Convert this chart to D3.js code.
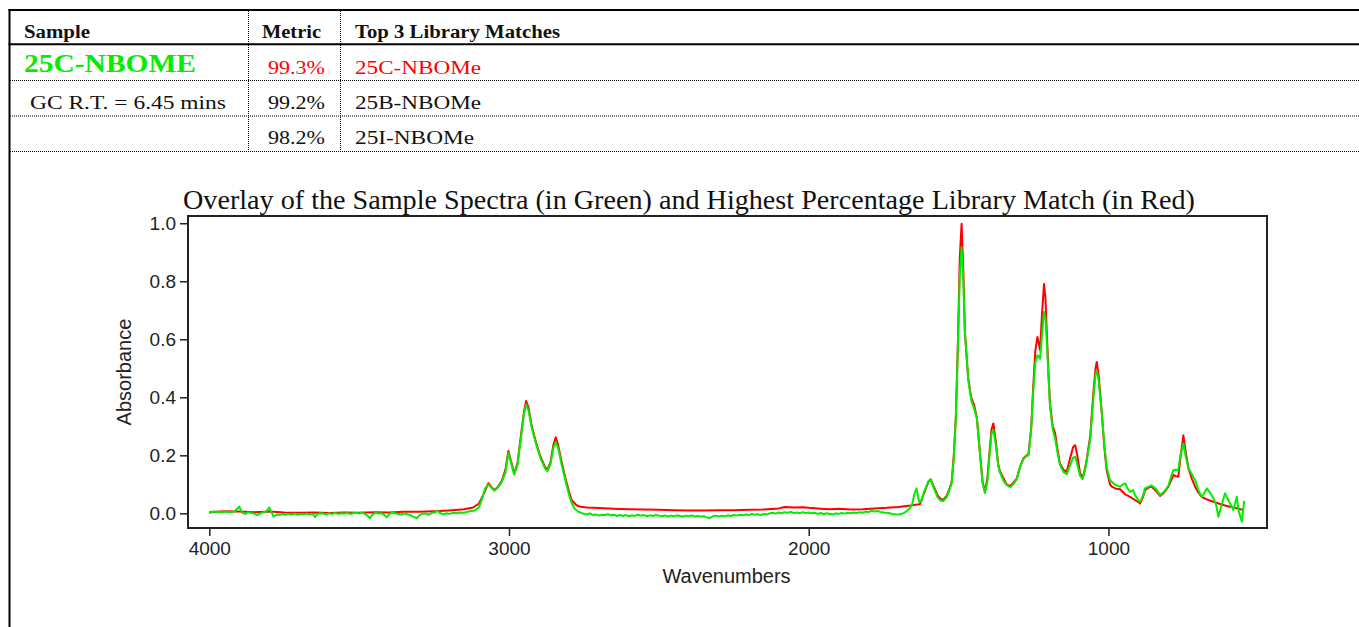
<!DOCTYPE html>
<html>
<head>
<meta charset="utf-8">
<script src="https://cdn.jsdelivr.net/npm/d3@7"></script>
<style>
  body { margin: 0; background: #fff; }
  svg { display: block; }
  .serif { font-family: "Liberation Serif", "DejaVu Serif", serif; }
  .sans { font-family: "Liberation Sans", Arial, sans-serif; }
</style>
</head>
<body>
<svg id="chart" width="1359" height="627"></svg>
<script>
// table content
const headers = ['Sample', 'Metric', 'Top 3 Library Matches'];
const sampleName = '25C-NBOME';
const retention = 'GC R.T. = 6.45 mins';
const metrics = ['99.3%', '99.2%', '98.2%'];
const matches = ['25C-NBOMe', '25B-NBOMe', '25I-NBOMe'];

const chartTitle = 'Overlay of the Sample Spectra (in Green) and Highest Percentage Library Match (in Red)';
const xTicks = [4000, 3000, 2000, 1000];
const yTicks = [0, 0.2, 0.4, 0.6, 0.8, 1.0];

// library match spectrum (red)
const redWn = [4000,3950,3900,3850,3800,3750,3700,3650,3600,3550,3500,3450,3400,3350,3300,3250,3200,3150,3120,3100,
  3085,3069,3058,3049,3036,3024,3012,3002,2992,2983,2972,2960,2950,2943,2935,2924,2910,2895,2880,2872,
  2862,2852,2844,2836,2825,2813,2800,2791,2775,2763,2740,2700,2650,2600,2550,2500,2450,2400,2350,2300,
  2250,2200,2150,2100,2080,2050,2020,2000,1960,1930,1900,1860,1820,1780,1740,1700,1660,1640,1629,1615,
  1600,1593,1582,1570,1560,1551,1540,1530,1523,1516,1509,1502,1496,1490,1484,1479,1468,1458,1448,1439,
  1428,1420,1412,1404,1396,1390,1384,1376,1368,1362,1350,1340,1328,1318,1306,1295,1284,1275,1267,1258,
  1251,1244,1237,1232,1228,1222,1215,1210,1206,1200,1195,1186,1178,1170,1162,1150,1139,1128,1118,1111,
  1104,1095,1086,1075,1061,1050,1043,1039,1033,1022,1014,1006,995,989,975,961,944,928,910,894,
  885,878,866,856,842,828,814,800,790,783,775,767,760,750,742,733,722,711,700,689,
  672,650,630,611,594,575,560,548];
const redAbs = [0.004,0.007,0.006,0.004,0.006,0.003,0.002,0.003,0.001,0.003,0.002,0.004,0.003,0.005,0.005,0.007,0.010,0.014,0.020,0.034,
  0.065,0.104,0.090,0.080,0.092,0.112,0.150,0.215,0.175,0.138,0.170,0.270,0.350,0.387,0.365,0.300,0.245,0.195,0.160,0.150,
  0.175,0.235,0.262,0.235,0.180,0.126,0.075,0.045,0.028,0.023,0.020,0.018,0.016,0.014,0.013,0.012,0.011,0.010,0.010,0.011,
  0.011,0.012,0.013,0.017,0.022,0.020,0.021,0.019,0.016,0.014,0.016,0.013,0.014,0.017,0.019,0.022,0.027,0.030,0.031,0.070,
  0.110,0.117,0.090,0.062,0.050,0.046,0.060,0.085,0.109,0.200,0.338,0.600,0.880,0.998,0.830,0.625,0.465,0.400,0.372,0.330,
  0.200,0.110,0.074,0.120,0.220,0.290,0.310,0.250,0.170,0.145,0.120,0.100,0.094,0.105,0.120,0.160,0.189,0.198,0.203,0.290,
  0.436,0.560,0.608,0.585,0.562,0.680,0.791,0.740,0.631,0.480,0.379,0.300,0.277,0.220,0.172,0.150,0.143,0.190,0.228,0.235,
  0.200,0.140,0.120,0.170,0.264,0.420,0.500,0.522,0.480,0.344,0.230,0.149,0.100,0.092,0.085,0.083,0.065,0.057,0.045,0.034,
  0.055,0.080,0.089,0.092,0.078,0.060,0.072,0.092,0.115,0.132,0.128,0.126,0.190,0.269,0.210,0.155,0.120,0.092,0.072,0.057,
  0.048,0.040,0.033,0.027,0.023,0.018,0.014,0.011];

// sample spectrum (green)
const greenWn = [4000,3990,3975,3960,3945,3930,3915,3900,3890,3880,3870,3860,3850,3840,3830,3820,3810,3800,3792,3785,
  3775,3765,3755,3745,3735,3725,3715,3705,3695,3685,3675,3665,3655,3647,3640,3630,3620,3610,3600,3590,
  3580,3570,3560,3550,3540,3530,3520,3510,3500,3490,3480,3470,3464,3455,3445,3435,3425,3415,3408,3400,
  3390,3380,3370,3360,3350,3340,3330,3318,3308,3298,3286,3276,3266,3256,3246,3240,3230,3219,3208,3198,
  3186,3175,3165,3150,3135,3119,3110,3100,3090,3080,3069,3058,3049,3036,3024,3012,3002,2992,2983,2972,
  2960,2950,2943,2935,2924,2910,2895,2880,2872,2862,2852,2844,2836,2825,2813,2800,2791,2780,2770,2760,
  2750,2740,2730,2720,2710,2700,2690,2680,2670,2660,2650,2640,2630,2620,2610,2600,2590,2580,2570,2560,
  2550,2540,2530,2520,2510,2500,2490,2480,2470,2460,2450,2440,2430,2420,2410,2400,2390,2380,2370,2360,
  2350,2340,2330,2320,2310,2300,2290,2280,2270,2260,2250,2240,2230,2220,2210,2200,2190,2180,2170,2160,
  2150,2140,2130,2120,2110,2100,2090,2080,2070,2060,2050,2040,2030,2020,2010,2000,1990,1980,1970,1960,
  1950,1940,1930,1920,1910,1900,1890,1880,1870,1860,1850,1840,1830,1820,1810,1800,1790,1780,1770,1762,
  1750,1740,1730,1720,1710,1696,1685,1675,1665,1655,1648,1640,1632,1625,1615,1600,1593,1582,1570,1560,
  1551,1540,1530,1523,1516,1509,1502,1496,1490,1484,1479,1468,1458,1448,1439,1428,1420,1412,1404,1396,
  1390,1384,1376,1368,1362,1350,1340,1328,1318,1306,1295,1284,1275,1267,1258,1251,1244,1237,1232,1228,
  1222,1215,1210,1206,1200,1195,1186,1178,1170,1162,1150,1139,1128,1118,1111,1104,1095,1086,1075,1061,
  1050,1043,1039,1033,1022,1014,1006,995,989,980,970,961,952,944,936,928,918,910,900,894,
  885,878,866,856,842,828,814,800,790,783,775,767,760,750,742,733,722,711,700,689,
  680,672,660,650,641,633,622,611,600,594,583,572,566,555,547];
const greenAbs = [0.000,0.006,0.005,0.004,0.006,0.004,0.007,0.023,0.002,-0.002,0.004,0.001,-0.001,-0.006,0.000,0.004,0.006,0.020,0.003,-0.012,
  -0.004,-0.006,-0.002,-0.005,-0.002,-0.004,-0.001,-0.005,-0.002,-0.003,-0.001,-0.004,-0.002,-0.013,-0.003,0.000,-0.001,-0.003,0.000,-0.002,
  0.001,-0.002,0.000,-0.001,0.001,-0.002,0.000,0.002,-0.001,0.003,-0.003,-0.010,-0.017,-0.004,0.002,-0.001,0.000,-0.006,-0.014,-0.004,
  0.003,0.000,-0.002,-0.004,0.000,-0.003,-0.006,-0.012,-0.017,-0.006,0.000,-0.002,-0.004,0.002,0.004,0.009,0.001,-0.003,0.000,-0.002,
  0.002,0.000,0.003,0.002,0.006,0.009,0.012,0.022,0.050,0.085,0.100,0.088,0.078,0.090,0.108,0.140,0.208,0.170,0.134,0.165,
  0.260,0.345,0.376,0.355,0.295,0.240,0.190,0.155,0.146,0.168,0.225,0.246,0.225,0.170,0.118,0.065,0.035,0.015,0.006,0.002,
  -0.002,-0.004,0.000,-0.006,-0.004,-0.008,-0.005,-0.006,-0.003,-0.007,-0.005,-0.009,-0.006,-0.009,-0.006,-0.010,-0.007,-0.009,-0.005,-0.008,
  -0.006,-0.010,-0.007,-0.009,-0.006,-0.008,-0.010,-0.007,-0.011,-0.008,-0.010,-0.007,-0.009,-0.012,-0.008,-0.010,-0.007,-0.011,-0.009,-0.012,
  -0.010,-0.014,-0.017,-0.010,-0.008,-0.011,-0.008,-0.010,-0.007,-0.009,-0.006,-0.008,-0.005,-0.007,-0.004,-0.006,-0.002,-0.005,-0.003,-0.006,
  -0.002,-0.004,0.000,0.002,-0.001,0.003,0.001,0.004,0.002,0.005,0.001,0.003,0.000,0.004,0.001,0.003,0.000,0.002,-0.002,0.001,
  -0.003,0.000,-0.002,-0.004,0.000,-0.002,0.001,-0.001,0.002,0.000,0.003,0.001,0.004,0.002,0.006,0.004,0.009,0.006,0.008,0.005,
  0.003,0.002,0.000,-0.002,-0.003,-0.004,0.000,0.006,0.015,0.030,0.065,0.086,0.040,0.040,0.075,0.112,0.117,0.085,0.055,0.044,
  0.042,0.055,0.082,0.105,0.190,0.330,0.580,0.820,0.917,0.800,0.625,0.465,0.390,0.360,0.327,0.200,0.105,0.070,0.110,0.210,
  0.275,0.287,0.240,0.165,0.140,0.112,0.098,0.090,0.100,0.118,0.160,0.186,0.196,0.200,0.285,0.420,0.520,0.545,0.540,0.533,
  0.610,0.694,0.670,0.600,0.470,0.370,0.290,0.258,0.210,0.168,0.142,0.135,0.165,0.192,0.195,0.170,0.130,0.118,0.165,0.255,
  0.400,0.480,0.493,0.460,0.344,0.240,0.160,0.115,0.109,0.100,0.095,0.092,0.100,0.103,0.085,0.074,0.080,0.060,0.045,0.040,
  0.060,0.086,0.092,0.096,0.085,0.063,0.075,0.095,0.130,0.149,0.150,0.149,0.200,0.241,0.195,0.155,0.135,0.115,0.080,0.057,
  0.070,0.086,0.070,0.052,0.030,-0.012,0.030,0.069,0.045,0.034,0.011,0.057,0.011,-0.029,0.043];

const RED = '#ff0000';
const GREEN = '#00ee00';

const svg = d3.select('#chart');

// ---------- table ----------
const table = svg.append('g');
const line = (x1, y1, x2, y2, w, dash) => table.append('line')
  .attr('x1', x1).attr('y1', y1).attr('x2', x2).attr('y2', y2)
  .attr('stroke', '#000').attr('stroke-width', w)
  .attr('stroke-dasharray', dash || null);

line(9.5, 9, 9.5, 627, 2);
line(8.5, 10, 1359, 10, 2);
line(8.5, 44.3, 1359, 44.3, 2);
[80.5, 116, 151.5].forEach(y => line(10, y, 1359, y, 1, '1,1'));
[248.5, 340.5].forEach(x => line(x, 11, x, 151, 1, '1,1'));

const txt = (s, x, y, size, opts = {}) => table.append('text')
  .attr('class', 'serif')
  .attr('x', x).attr('y', y)
  .attr('font-size', size)
  .attr('font-weight', opts.bold ? 'bold' : null)
  .attr('fill', opts.color || '#111')
  .attr('textLength', opts.len || null)
  .attr('lengthAdjust', 'spacingAndGlyphs')
  .text(s);

const headerX = [24, 262, 355];
const headerLen = [66, 59, 205];
headers.forEach((h, i) => txt(h, headerX[i], 38, 18, { bold: true, len: headerLen[i] }));

txt(sampleName, 24, 72, 26, { bold: true, color: GREEN, len: 172 });
txt(retention, 30, 109, 19, { len: 196 });

const rowY = [74, 109, 143.5];
metrics.forEach((m, i) => txt(m, 268, rowY[i], 19, { color: i === 0 ? RED : '#111', len: 57 }));
const matchLen = [126, 126, 119];
matches.forEach((m, i) => txt(m, 355, rowY[i], 19, { color: i === 0 ? RED : '#111', len: matchLen[i] }));

// ---------- spectrum chart ----------
const plot = { left: 188, right: 1267, top: 216, bottom: 528 };

const x = d3.scaleLinear().domain([4071, 471]).range([plot.left, plot.right]);
const y = d3.scaleLinear().domain([-0.0506, 1.025]).range([plot.bottom, plot.top]);

svg.append('text')
  .attr('class', 'serif')
  .attr('x', 183).attr('y', 208.5)
  .attr('font-size', 27)
  .attr('fill', '#111')
  .attr('textLength', 1012)
  .attr('lengthAdjust', 'spacingAndGlyphs')
  .text(chartTitle);

const clipId = 'plot-clip';
svg.append('clipPath').attr('id', clipId)
  .append('rect')
  .attr('x', plot.left).attr('y', plot.top)
  .attr('width', plot.right - plot.left).attr('height', plot.bottom - plot.top);

const redData = redWn.map((w, i) => [w, redAbs[i]]);
const greenData = greenWn.map((w, i) => [w, greenAbs[i]]);

const spectrum = d3.line().x(d => x(d[0])).y(d => y(d[1]));

const lines = svg.append('g').attr('clip-path', `url(#${clipId})`);
lines.append('path').datum(redData)
  .attr('d', spectrum).attr('fill', 'none')
  .attr('stroke', RED).attr('stroke-width', 2).attr('stroke-linejoin', 'round');
lines.append('path').datum(greenData)
  .attr('d', spectrum).attr('fill', 'none')
  .attr('stroke', GREEN).attr('stroke-width', 2).attr('stroke-linejoin', 'round');

// frame
svg.append('rect')
  .attr('x', plot.left).attr('y', plot.top)
  .attr('width', plot.right - plot.left).attr('height', plot.bottom - plot.top)
  .attr('fill', 'none').attr('stroke', '#222').attr('stroke-width', 2);

// axes
const xAxis = svg.append('g')
  .attr('transform', `translate(0,${plot.bottom + 1})`)
  .call(d3.axisBottom(x).tickValues(xTicks).tickSize(7).tickPadding(6).tickFormat(d3.format('d')));
const yAxis = svg.append('g')
  .attr('transform', `translate(${plot.left - 1},0)`)
  .call(d3.axisLeft(y).tickValues(yTicks).tickSize(7).tickPadding(4).tickFormat(d3.format('.1f')));

[xAxis, yAxis].forEach(a => {
  a.select('.domain').remove();
  a.selectAll('.tick line').attr('stroke', '#222').attr('stroke-width', 1.5);
  a.selectAll('.tick text')
    .attr('class', 'sans')
    .attr('font-size', 19)
    .attr('fill', '#222');
});

svg.append('text')
  .attr('class', 'sans')
  .attr('x', (plot.left + plot.right) / 2 - 1)
  .attr('y', 583)
  .attr('text-anchor', 'middle')
  .attr('font-size', 20)
  .attr('fill', '#222')
  .text('Wavenumbers');

svg.append('text')
  .attr('class', 'sans')
  .attr('transform', `translate(131,${(plot.top + plot.bottom) / 2}) rotate(-90)`)
  .attr('text-anchor', 'middle')
  .attr('font-size', 20)
  .attr('fill', '#222')
  .text('Absorbance');
</script>
</body>
</html>
